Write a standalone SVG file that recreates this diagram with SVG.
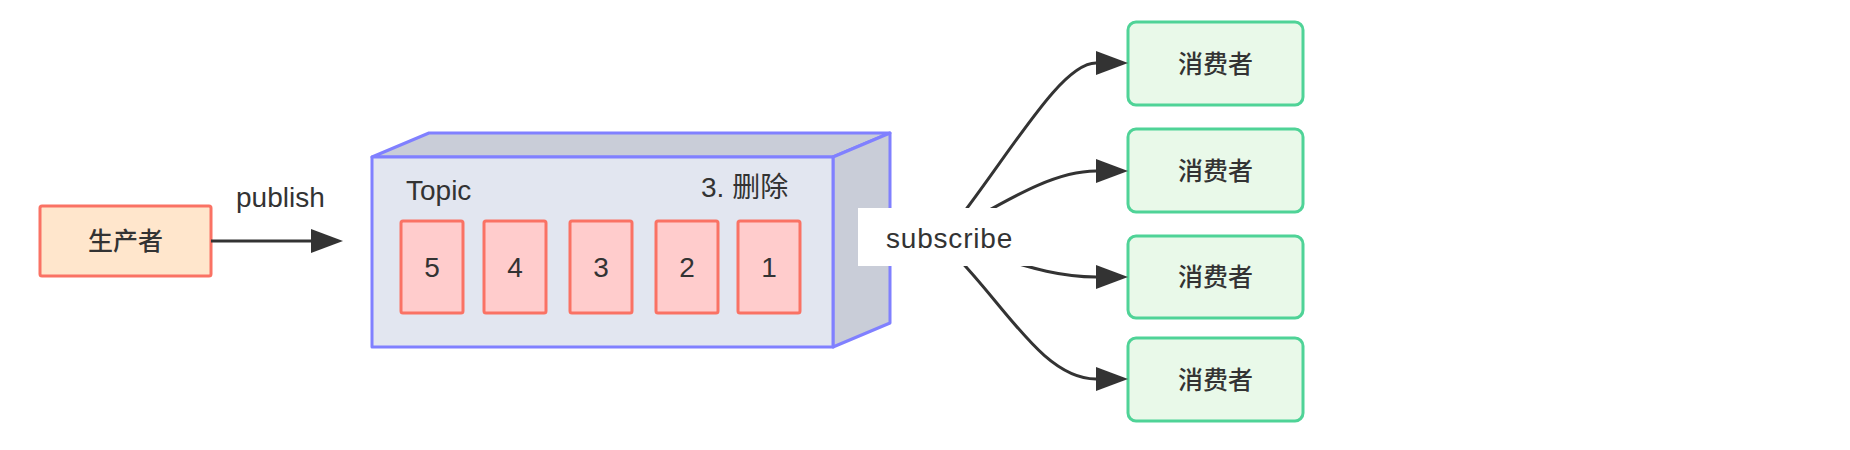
<svg xmlns="http://www.w3.org/2000/svg" width="1850" height="450" viewBox="0 0 1850 450">
<style>
.lbl{font-family:"Liberation Sans","Noto Sans CJK SC",sans-serif;fill:#333;}
.lat{font-size:28px;}
.cjk{font-size:25px;font-weight:500;}
.conn{fill:none;stroke:#333;stroke-width:3;}
.face{fill:#e2e6f0;stroke:#8080ff;stroke-width:3;stroke-linejoin:round;}
.shade{fill:#c9cdd8;stroke:#8080ff;stroke-width:3;stroke-linejoin:round;}
.msg{fill:#ffcccc;stroke:#fa7264;stroke-width:3;}
.cons{fill:#e9f9e9;stroke:#4fd397;stroke-width:3;}
</style>
<defs>
<marker id="ah" markerUnits="userSpaceOnUse" markerWidth="34" markerHeight="26" refX="0" refY="12" orient="auto">
<path d="M0,0 L32,12 L0,24 Z" fill="#333"/>
</marker>
</defs>
<rect width="1850" height="450" fill="#fff"/>
<g id="producer">
<rect x="40" y="206" width="171" height="70" rx="2" fill="#ffe6cc" stroke="#fa7264" stroke-width="3"/>
<text class="lbl cjk" x="125.5" y="241" text-anchor="middle" dominant-baseline="central">生产者</text>
</g>
<g id="topic">
<polygon class="shade" points="372,157 429,133 890,133 833,157"/>
<polygon class="shade" points="833,157 890,133 890,323 833,347"/>
<rect class="face" x="372" y="157" width="461" height="190"/>
<text class="lbl lat" x="406" y="200">Topic</text>
<text class="lbl lat" x="701" y="197">3. 删除</text>
</g>
<g id="msg5"><rect class="msg" x="401" y="221" width="62" height="92" rx="2"/><text class="lbl lat" x="432" y="277" text-anchor="middle">5</text></g>
<g id="msg4"><rect class="msg" x="484" y="221" width="62" height="92" rx="2"/><text class="lbl lat" x="515" y="277" text-anchor="middle">4</text></g>
<g id="msg3"><rect class="msg" x="570" y="221" width="62" height="92" rx="2"/><text class="lbl lat" x="601" y="277" text-anchor="middle">3</text></g>
<g id="msg2"><rect class="msg" x="656" y="221" width="62" height="92" rx="2"/><text class="lbl lat" x="687" y="277" text-anchor="middle">2</text></g>
<g id="msg1"><rect class="msg" x="738" y="221" width="62" height="92" rx="2"/><text class="lbl lat" x="769" y="277" text-anchor="middle">1</text></g>
<g id="consumer1"><rect class="cons" x="1128" y="22" width="175" height="83" rx="8"/><text class="lbl cjk" x="1215.5" y="63.5" text-anchor="middle" dominant-baseline="central">消费者</text></g>
<g id="consumer2"><rect class="cons" x="1128" y="129" width="175" height="83" rx="8"/><text class="lbl cjk" x="1215.5" y="170.5" text-anchor="middle" dominant-baseline="central">消费者</text></g>
<g id="consumer3"><rect class="cons" x="1128" y="236" width="175" height="82" rx="8"/><text class="lbl cjk" x="1215.5" y="277" text-anchor="middle" dominant-baseline="central">消费者</text></g>
<g id="consumer4"><rect class="cons" x="1128" y="338" width="175" height="83" rx="8"/><text class="lbl cjk" x="1215.5" y="379.5" text-anchor="middle" dominant-baseline="central">消费者</text></g>
<g id="connectors">
<path class="conn" d="M211,241 L311,241" marker-end="url(#ah)"/>
<text class="lbl lat" x="236" y="207">publish</text>
<path class="conn" d="M945,237 C1010,155 1060,63 1096,63" marker-end="url(#ah)"/>
<path class="conn" d="M950,232 C1000,205 1050,171 1096,171" marker-end="url(#ah)"/>
<path class="conn" d="M965,248 C1015,262 1050,277 1096,277" marker-end="url(#ah)"/>
<path class="conn" d="M940,240 C1000,295 1040,379 1096,379" marker-end="url(#ah)"/>
<rect x="858" y="208" width="174" height="58" fill="#fff"/>
<text class="lbl lat" x="886" y="248" letter-spacing="0.8">subscribe</text>
</g>
</svg>
